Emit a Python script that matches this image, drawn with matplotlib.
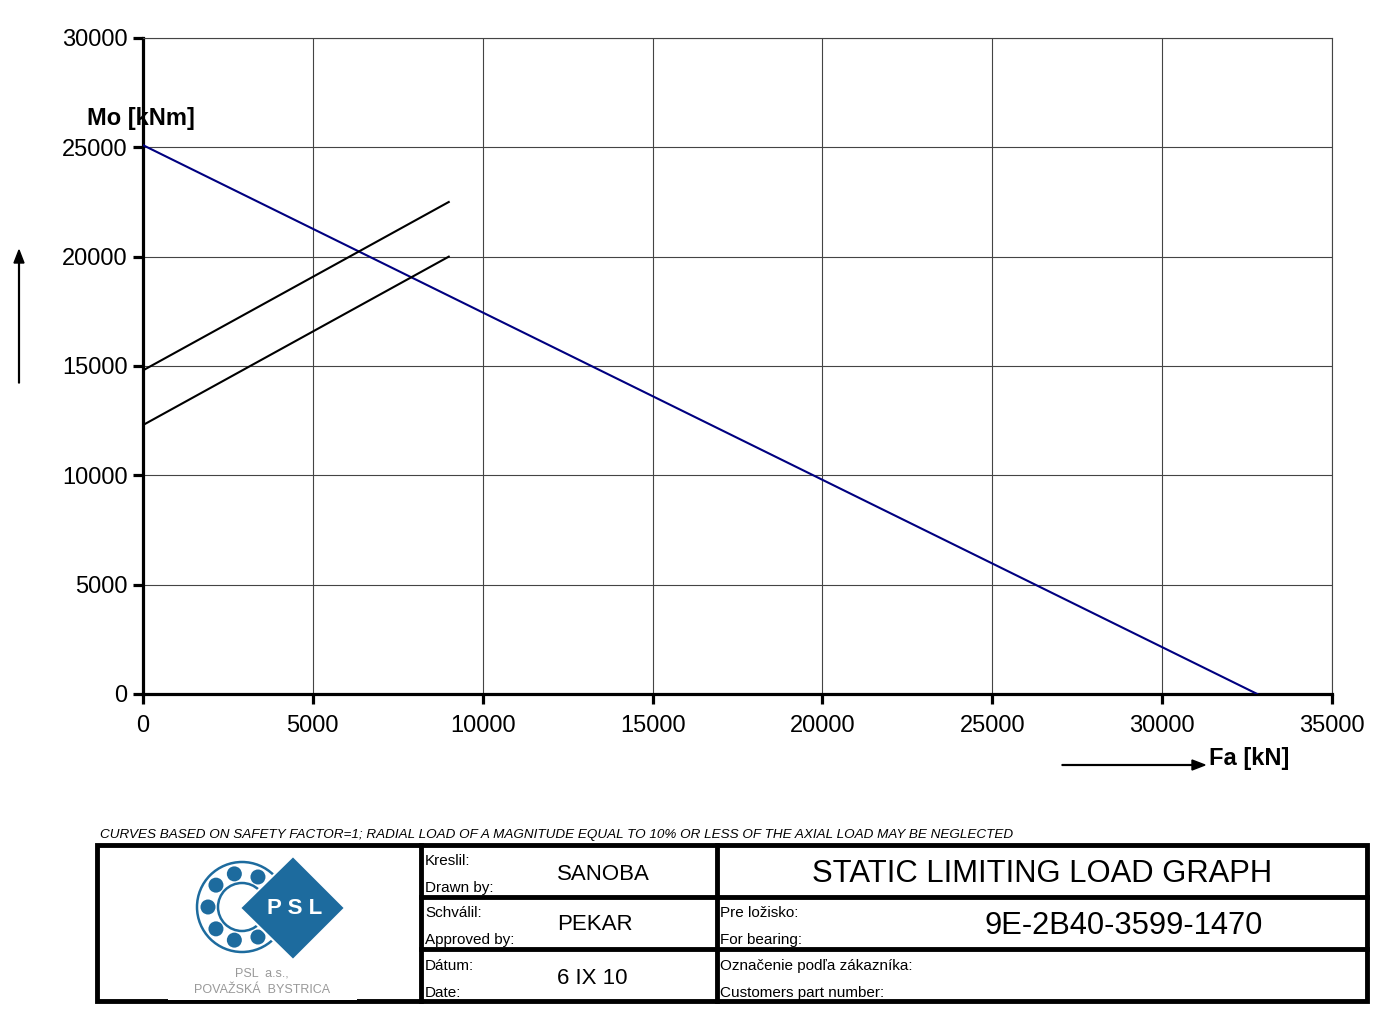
import matplotlib
matplotlib.use("Agg")
import matplotlib.pyplot as plt
from matplotlib.patches import Circle, Polygon, Rectangle, FancyArrow
import numpy as np

# chart values
fa_limit = [0, 32800]
mo_limit = [25100, 0]
fa_load = [0, 9000]
mo_load_upper = [14800, 22500]
mo_load_lower = [12300, 20000]
x_ticks = [0, 5000, 10000, 15000, 20000, 25000, 30000, 35000]
y_ticks = [0, 5000, 10000, 15000, 20000, 25000, 30000]

W, H = 1391, 1011
plt.rcParams['font.family'] = ['Liberation Sans', 'DejaVu Sans']

fig = plt.figure(figsize=(W / 100, H / 100), dpi=100)

# main graph area
left, right, top, bottom = 143, 1332, 38, 694
ax = fig.add_axes([left / W, 1 - bottom / H, (right - left) / W, (bottom - top) / H])
ax.plot(fa_limit, mo_limit, color='#000080', lw=1.5, zorder=3)
ax.plot(fa_load, mo_load_upper, color='black', lw=1.5, zorder=3)
ax.plot(fa_load, mo_load_lower, color='black', lw=1.5, zorder=3)
ax.set_xlim(0, 35000)
ax.set_ylim(0, 30000)
ax.set_xticks(x_ticks)
ax.set_yticks(y_ticks)
ax.grid(True, color='#444444', lw=0.8)
ax.set_axisbelow(True)
for s in ['left', 'bottom']:
    ax.spines[s].set_linewidth(2.3)
for s in ['top', 'right']:
    ax.spines[s].set_linewidth(0.8)
    ax.spines[s].set_color('#444444')
ax.tick_params(axis='both', direction='out', length=7, width=2.3, labelsize=17, pad=4)
ax.tick_params(axis='x', pad=8)

# overlay in pixel coordinates for labels and title block
ov = fig.add_axes([0, 0, 1, 1])
ov.set_xlim(0, W)
ov.set_ylim(H, 0)
ov.axis('off')
ov.patch.set_alpha(0)

ov.text(87, 118, 'Mo [kNm]', fontsize=17, fontweight='bold', va='center', ha='left')
ov.text(1209, 758, 'Fa [kN]', fontsize=17, fontweight='bold', va='center', ha='left')
ov.add_patch(FancyArrow(19, 383, 0, -120, width=0.8, head_width=10, head_length=13,
                        length_includes_head=False, color='black'))
ov.add_patch(FancyArrow(1062, 765, 130, 0, width=0.8, head_width=10, head_length=13,
                        length_includes_head=False, color='black'))

ov.text(100, 835, 'CURVES BASED ON SAFETY FACTOR=1; RADIAL LOAD OF A MAGNITUDE EQUAL TO 10% OR LESS OF THE AXIAL LOAD MAY BE NEGLECTED',
        fontsize=9.7, style='italic', va='center', ha='left')

# title block frame
bl, br, bt, bb = 97, 1367, 845, 1001
lw_thick = 3.5
ov.add_patch(Rectangle((bl, bt), br - bl, bb - bt, fill=False, lw=lw_thick, ec='black'))
ov.plot([421, 421], [bt, bb], color='black', lw=lw_thick)
ov.plot([717, 717], [bt, bb], color='black', lw=lw_thick)
for yy in [897, 949]:
    ov.plot([421, br], [yy, yy], color='black', lw=lw_thick)

# logo
blue = '#1d6b9e'
ov.add_patch(Rectangle((168, 850), 189, 150, fc='white', ec='none', zorder=4))
cx, cy = 242, 907
ov.add_patch(Circle((cx, cy), 45, fill=False, ec=blue, lw=1.8, zorder=5))
ov.add_patch(Circle((cx, cy), 24, fill=False, ec=blue, lw=1.8, zorder=5))
for ang in [62, 103, 140, 180, 220, 257, 298]:
    a = np.radians(ang)
    ov.add_patch(Circle((cx + 34 * np.cos(a), cy - 34 * np.sin(a)), 7.5, fc=blue, ec='none', zorder=5))
ov.add_patch(Polygon([(240, 908), (293, 856), (345, 908), (293, 960)], closed=True,
                     fc=blue, ec='white', lw=1.5, zorder=6))
ov.text(295, 909, 'P S L', color='white', fontsize=16, fontweight='bold', ha='center', va='center', zorder=7)
ov.text(262, 973, 'PSL  a.s.,', color='#999999', fontsize=9, ha='center', va='center', zorder=7)
ov.text(262, 990, 'POVAŽSKÁ  BYSTRICA', color='#999999', fontsize=9, ha='center', va='center', zorder=7)

# cell texts
small = 11
for txt, yy in [('Kreslil:', 861), ('Drawn by:', 888), ('Schválil:', 913),
                ('Approved by:', 940), ('Dátum:', 966), ('Date:', 993)]:
    ov.text(425, yy, txt, fontsize=small, va='center', ha='left')
for txt, yy in [('SANOBA', 874), ('PEKAR', 925), ('6 IX 10', 978)]:
    ov.text(557, yy, txt, fontsize=16, va='center', ha='left')
for txt, yy in [('Pre ložisko:', 913), ('For bearing:', 940),
                ('Označenie podľa zákazníka:', 966), ('Customers part number:', 993)]:
    ov.text(720, yy, txt, fontsize=small, va='center', ha='left')
ov.text(1042, 874, 'STATIC LIMITING LOAD GRAPH', fontsize=22.3, va='center', ha='center')
ov.text(1124, 926, '9E-2B40-3599-1470', fontsize=22.2, va='center', ha='center')

fig.savefig('out.png', dpi=100)
